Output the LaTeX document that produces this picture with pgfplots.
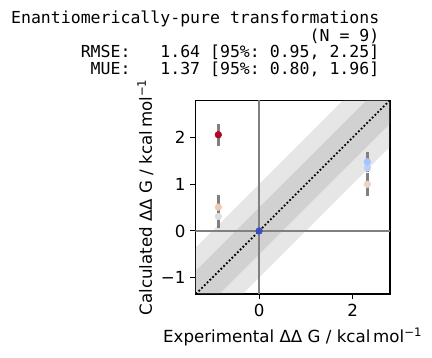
\documentclass[border=0pt]{standalone}
\usepackage{pgfplots}
\pgfplotsset{compat=1.18}
\usepackage{fontspec}
\setmainfont{DejaVu Sans}
\setmonofont{DejaVu Sans Mono}
\definecolor{cred}{HTML}{B40426}
\definecolor{cpeachL}{HTML}{F2C9B4}
\definecolor{cgray}{HTML}{DCDDDD}
\definecolor{cblue}{HTML}{3B4CC0}
\definecolor{cblueA}{HTML}{A5C3FE}
\definecolor{cblueB}{HTML}{B7CFF9}
\definecolor{cpeachR}{HTML}{E9D5CB}
\begin{document}
\begin{tikzpicture}
\useasboundingbox (0bp,0bp) rectangle (311.04bp,257.76bp);
\tikzset{tl/.style={anchor=base east, inner sep=0pt, font=\ttfamily\fontsize{11.9bp}{12.2bp}\selectfont}}
\node[tl] at (273.3bp,240.5bp) {Enantiomerically-pure transformations};
\node[tl] at (273.3bp,228.2bp) {(N = 9)};
\node[tl] at (273.3bp,216.0bp) {RMSE:\ \ \ 1.64 [95\%: 0.95, 2.25]};
\node[tl] at (273.3bp,203.8bp) {MUE:\ \ \ 1.37 [95\%: 0.80, 1.96]};
\begin{axis}[
  at={(140.6bp,46.1bp)}, anchor=south west,
  scale only axis, width=140.2bp, height=139.5bp,
  xmin=-1.365, xmax=2.80, ymin=-1.35, ymax=2.80,
  xtick={0,2}, xticklabels={0,2},
  ytick={-1,0,1,2}, yticklabels={−1,0,1,2},
  tick align=outside, tick pos=left,
  major tick length=3.5bp,
  tick style={black, line width=0.8bp},
  axis line style={black, line width=0.8bp},
  ticklabel style={font=\fontsize{12bp}{14bp}\selectfont},
  label style={font=\fontsize{12bp}{14bp}\selectfont},
  xlabel={Experimental ΔΔ G / kcal\,mol\textsuperscript{−1}},
  ylabel={Calculated ΔΔ G / kcal\,mol\textsuperscript{−1}},
  xlabel style={at={(axis description cs:0.5,-0.2516)}, anchor=base},
  ylabel style={at={(axis description cs:-0.2225,0.5)}, anchor=base},
  clip=true,
]
% bands
\addplot[fill=gray, fill opacity=0.2, draw=none] coordinates {(-5,-6) (5,4) (5,6) (-5,-4)} -- cycle;
\addplot[fill=gray, fill opacity=0.2, draw=none] coordinates {(-5,-5.5) (5,4.5) (5,5.5) (-5,-4.5)} -- cycle;
% zero lines
\addplot[color={rgb,255:red,128;green,128;blue,128}, line width=1.5bp] coordinates {(0,-5) (0,5)};
\addplot[color={rgb,255:red,128;green,128;blue,128}, line width=1.5bp] coordinates {(-5,0) (5,0)};
% diagonal
\addplot[black, line width=1.3bp, dash pattern=on 1.2bp off 1.6bp] coordinates {(-5,-5) (5,5)};
% error bars
\addplot[color={rgb,255:red,128;green,128;blue,128}, line width=2.2bp] coordinates {(-0.872,1.82) (-0.872,2.28)};
\addplot[color={rgb,255:red,128;green,128;blue,128}, line width=2.2bp] coordinates {(-0.872,0.25) (-0.872,0.77)};
\addplot[color={rgb,255:red,128;green,128;blue,128}, line width=2.2bp] coordinates {(-0.872,0.07) (-0.872,0.55)};
\addplot[color={rgb,255:red,128;green,128;blue,128}, line width=2.2bp] coordinates {(2.315,1.26) (2.315,1.70)};
\addplot[color={rgb,255:red,128;green,128;blue,128}, line width=2.2bp] coordinates {(2.315,0.75) (2.315,1.25)};
% points
\addplot[only marks, mark=*, mark size=2.4bp, mark options={fill=cred, draw=cred}] coordinates {(-0.872,2.06)};
\addplot[only marks, mark=*, mark size=2.4bp, mark options={fill=cgray, draw=cgray}] coordinates {(-0.872,0.31)};
\addplot[only marks, mark=*, mark size=2.4bp, mark options={fill=cpeachL, draw=cpeachL}] coordinates {(-0.872,0.51)};
\addplot[only marks, mark=*, mark size=2.4bp, mark options={fill=cpeachR, draw=cpeachR}] coordinates {(2.315,1.00)};
\addplot[only marks, mark=*, mark size=2.4bp, mark options={fill=cblueB, draw=cblueB}] coordinates {(2.315,1.35)};
\addplot[only marks, mark=*, mark size=2.4bp, mark options={fill=cblueA, draw=cblueA}] coordinates {(2.315,1.48)};
\addplot[only marks, mark=*, mark size=2.4bp, mark options={fill=cblue, draw=cblue}] coordinates {(0,0)};
\end{axis}
\end{tikzpicture}
\end{document}
